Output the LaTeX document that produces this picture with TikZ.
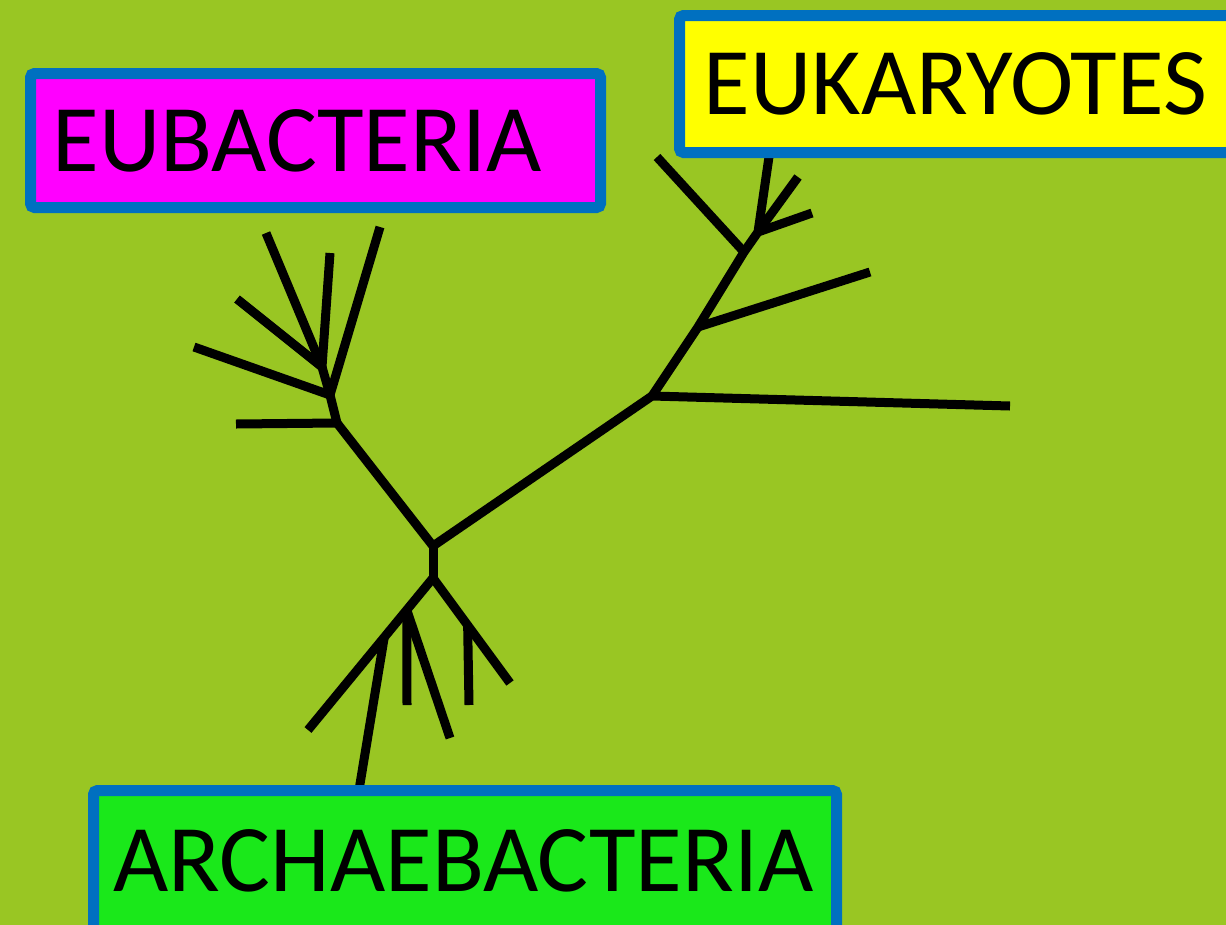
\documentclass[tikz,border=0pt]{standalone}
\usepackage{fontspec}
\setmainfont{Carlito}
\usetikzlibrary{calc}
\definecolor{bgc}{RGB}{153,198,35}
\definecolor{bordc}{RGB}{0,112,192}
\definecolor{magc}{RGB}{255,0,255}
\definecolor{yelc}{RGB}{255,255,0}
\definecolor{grnc}{RGB}{26,232,26}
\tikzset{
  branch/.style={draw=black, line width=9pt, line cap=butt},
  group/.style={draw=bordc, line width=11pt, rounded corners=4pt, inner ysep=0pt,
    align=left, text depth=0pt, text height=61pt, font=\fontsize{95.5}{98}\selectfont}
}
\begin{document}
\begin{tikzpicture}[x=1pt,y=-1pt]
\useasboundingbox (0,0) rectangle (1226,924);
\fill[bgc] (-5,-5) rectangle (1231,929);
% coordinates
\coordinate (R) at (433,546);
\coordinate (A) at (337,423);
\coordinate (a1) at (236,424);
\coordinate (B) at (330,395);
\coordinate (b1) at (380,227);
\coordinate (b2) at (194,347);
\coordinate (C) at (322,367);
\coordinate (c1) at (266,233);
\coordinate (c2) at (330,253);
\coordinate (c3) at (237,299);
\coordinate (D) at (652,396);
\coordinate (d1) at (1010,406);
\coordinate (E) at (698,327);
\coordinate (e1) at (870,272);
\coordinate (F) at (744,252);
\coordinate (f1) at (657,157);
\coordinate (G) at (758,232);
\coordinate (g1) at (770,150);
\coordinate (g2) at (798,177);
\coordinate (g3) at (812,213);
\coordinate (H) at (433,578);
\coordinate (i0) at (510,683);
\coordinate (k0) at (308,730);
\coordinate (I) at ($(H)!0.45!(i0)$);
\coordinate (J) at ($(H)!0.21!(k0)$);
\coordinate (K) at ($(H)!0.39!(k0)$);
\coordinate (i1) at (469,705);
\coordinate (j1) at (407,705);
\coordinate (j2) at (450,738);
\coordinate (k1) at (359,790);
% tree
\draw[branch] (a1) -- (A) -- (R) -- (D) -- (d1);
\draw[branch] (A) -- (B) -- (C);
\draw[branch] (B) -- (b1);
\draw[branch] (B) -- (b2);
\draw[branch] (C) -- (c1);
\draw[branch] (C) -- (c2);
\draw[branch] (C) -- (c3);
\draw[branch] (D) -- (E) -- (F) -- (G) -- (g1);
\draw[branch] (E) -- (e1);
\draw[branch] (F) -- (f1);
\draw[branch] (G) -- (g2);
\draw[branch] (G) -- (g3);
\draw[branch] (R) -- (H);
\draw[branch] (H) -- (i0);
\draw[branch] (I) -- (i1);
\draw[branch] (H) -- (k0);
\draw[branch] (J) -- (j1);
\draw[branch] (J) -- (j2);
\draw[branch] (K) -- (k1);
% boxes
\node[group, fill=magc, minimum width=570pt, minimum height=134pt,
  inner xsep=22pt, text width=526pt] (eub) at (315.5,140.5) {EUBACTERIA};
\node[group, fill=yelc, minimum width=555pt, minimum height=137pt,
  inner xsep=24pt, text width=507pt] (euk) at (957,84) {EUKARYOTES};
\node[group, fill=grnc, minimum width=743pt, minimum height=141pt,
  inner xsep=20pt, text width=703pt] (arc) at (465,861) {ARCHAEBACTERIA};
\end{tikzpicture}
\end{document}
